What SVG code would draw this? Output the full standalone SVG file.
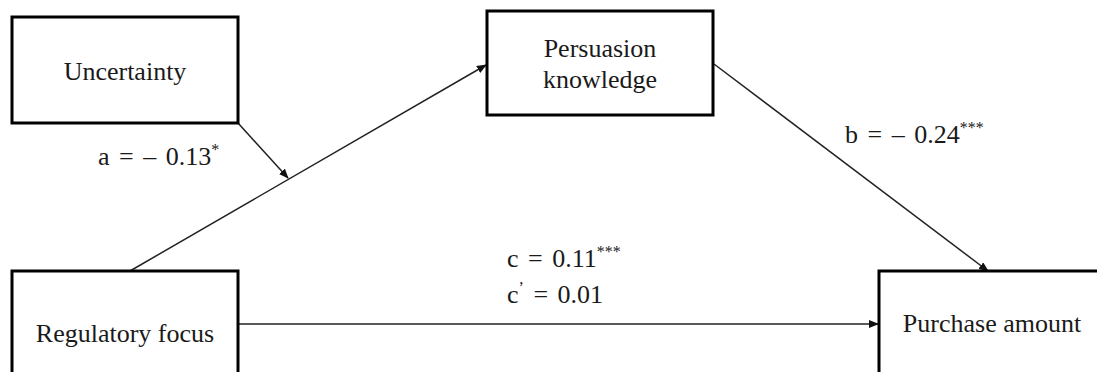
<svg xmlns="http://www.w3.org/2000/svg" width="1097" height="372" viewBox="0 0 1097 372">
<style>
.box{fill:#fff;stroke:#000;stroke-width:3}
.lbl{font-family:"Liberation Serif",serif;font-size:26px;fill:#1a1a1a}
.coef{font-family:"Liberation Serif",serif;font-size:26px;fill:#1a1a1a;word-spacing:3px}
.sup{font-size:16px}
.conn{stroke:#222;stroke-width:1.5;fill:none;marker-end:url(#ah)}
</style>
<defs>
<marker id="ah" markerWidth="10" markerHeight="8" refX="9" refY="4" orient="auto" markerUnits="userSpaceOnUse">
<path d="M0,0 L10,4 L0,8 Z" fill="#111"/>
</marker>
</defs>
<rect width="1097" height="372" fill="#fff"/>
<g id="connectors">
<line class="conn" x1="130" y1="271" x2="486" y2="65"/>
<line class="conn" x1="238" y1="123" x2="288" y2="178"/>
<line class="conn" x1="714" y1="64" x2="988" y2="271"/>
<line class="conn" x1="238" y1="324" x2="878" y2="324"/>
</g>
<g id="uncertainty">
<rect class="box" x="12" y="17" width="226" height="106"/>
<text class="lbl" x="125" y="80" text-anchor="middle">Uncertainty</text>
</g>
<g id="persuasion">
<rect class="box" x="487" y="11" width="226" height="104"/>
<text class="lbl" x="600" y="57" text-anchor="middle">Persuasion</text>
<text class="lbl" x="600" y="88" text-anchor="middle">knowledge</text>
</g>
<g id="regulatory">
<rect class="box" x="12" y="271" width="226" height="120"/>
<text class="lbl" x="125" y="342" text-anchor="middle">Regulatory focus</text>
</g>
<g id="purchase">
<rect class="box" x="879" y="271" width="226" height="120"/>
<text class="lbl" x="992" y="332" text-anchor="middle">Purchase amount</text>
</g>
<g id="labels">
<text class="coef" x="98" y="165">a = – 0.13<tspan class="sup" dy="-10">*</tspan></text>
<text class="coef" x="845" y="143">b = – 0.24<tspan class="sup" dy="-10">***</tspan></text>
<text class="coef" x="507" y="267">c = 0.11<tspan class="sup" dy="-10">***</tspan></text>
<text class="coef" x="507" y="303">c<tspan class="sup" dy="-10">’</tspan><tspan dy="10"> = 0.01</tspan></text>
</g>
</svg>
